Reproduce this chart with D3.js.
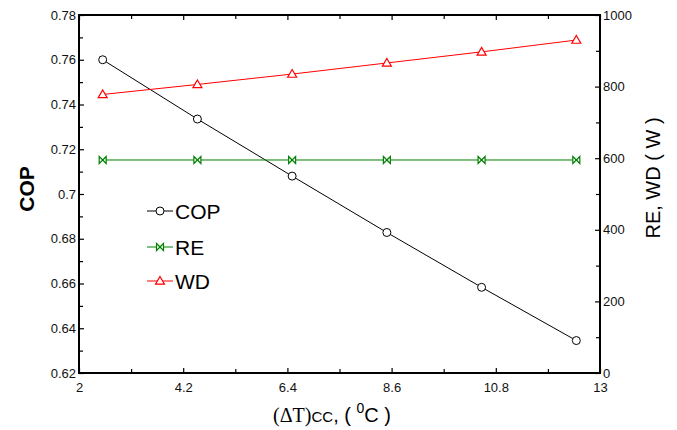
<!DOCTYPE html>
<html><head><meta charset="utf-8">
<script src="https://cdn.jsdelivr.net/npm/d3@7"></script>
<style>body{margin:0;background:#fff}svg{display:block}text{font-family:Arial,"Liberation Sans",sans-serif}</style>
</head><body>
<script>
const xValues = [2.5, 4.5, 6.5, 8.5, 10.5, 12.5];
const copValues = [0.760, 0.7335, 0.708, 0.6828, 0.6583, 0.6345];
const reValues = [595, 595, 595, 595, 595, 595];
const wdValues = [778, 806, 835, 866, 897, 930];
const xTicks = [2, 4.2, 6.4, 8.6, 10.8, 13];
const xMinorTicks = [3.1, 5.3, 7.5, 9.7, 11.9];
const yLeftTicks = [0.62, 0.64, 0.66, 0.68, 0.70, 0.72, 0.74, 0.76, 0.78];
const yLeftMinor = [0.63, 0.65, 0.67, 0.69, 0.71, 0.73, 0.75, 0.77];
const yRightTicks = [0, 200, 400, 600, 800, 1000];
const yRightMinor = [100, 300, 500, 700, 900];
const seriesNames = ["COP", "RE", "WD"];

const W = 677, H = 430;
const L = 79, R = 600, T = 15, B = 373;
const svg = d3.select("body").append("svg").attr("width", W).attr("height", H);

const x = d3.scaleLinear().domain([2, 13]).range([L, R]);
const yL = d3.scaleLinear().domain([0.62, 0.78]).range([B, T]);
const yR = d3.scaleLinear().domain([0, 1000]).range([B, T]);

function style(g){
  g.selectAll(".domain").remove();
  g.selectAll("line").attr("stroke","#000").attr("stroke-width",1.2);
  g.selectAll("text").attr("font-size","13px").attr("fill","#111").attr("font-family","Arial, 'Liberation Sans', sans-serif");
}
const fmt = d => String(+d.toFixed(2));

// bottom
svg.append("g").attr("transform",`translate(0,${B})`)
  .call(d3.axisBottom(x).tickValues(xTicks).tickSize(-5).tickPadding(10).tickFormat(fmt)).call(style);
svg.append("g").attr("transform",`translate(0,${B})`)
  .call(d3.axisBottom(x).tickValues(xMinorTicks).tickSize(-4).tickFormat("")).call(style);
// top
svg.append("g").attr("transform",`translate(0,${T})`)
  .call(d3.axisTop(x).tickValues(xTicks).tickSize(-5).tickFormat("")).call(style);
svg.append("g").attr("transform",`translate(0,${T})`)
  .call(d3.axisTop(x).tickValues(xMinorTicks).tickSize(-4).tickFormat("")).call(style);
// left
svg.append("g").attr("transform",`translate(${L},0)`)
  .call(d3.axisLeft(yL).tickValues(yLeftTicks).tickSize(-5).tickPadding(3).tickFormat(fmt)).call(style);
svg.append("g").attr("transform",`translate(${L},0)`)
  .call(d3.axisLeft(yL).tickValues(yLeftMinor).tickSize(-4).tickFormat("")).call(style);
// right
svg.append("g").attr("transform",`translate(${R},0)`)
  .call(d3.axisRight(yR).tickValues(yRightTicks).tickSize(-5).tickPadding(3).tickFormat(d3.format("d"))).call(style);
svg.append("g").attr("transform",`translate(${R},0)`)
  .call(d3.axisRight(yR).tickValues(yRightMinor).tickSize(-4).tickFormat("")).call(style);

// frame
svg.append("rect").attr("x",L).attr("y",T).attr("width",R-L).attr("height",B-T)
  .attr("fill","none").attr("stroke","#000").attr("stroke-width",2);

const bowtie = "M-3.5,-3.5L3.5,3.5L3.5,-3.5L-3.5,3.5Z";
const tri = "M0,-4.5L4.5,3.2L-4.5,3.2Z";
const series = [
  {name:seriesNames[0], vals:copValues, y:yL, color:"#000", shape:"circle"},
  {name:seriesNames[1], vals:reValues, y:yR, color:"#008000", shape:bowtie},
  {name:seriesNames[2], vals:wdValues, y:yR, color:"#ff0000", shape:tri}
];
function marker(g, s, cx, cy){
  if(s.shape==="circle"){
    g.append("circle").attr("cx",cx).attr("cy",cy).attr("r",4).attr("fill","#fff").attr("stroke",s.color).attr("stroke-width",1);
  } else {
    g.append("path").attr("d",s.shape).attr("transform",`translate(${cx},${cy})`)
      .attr("fill","#fff").attr("stroke",s.color).attr("stroke-width",1.2);
  }
}
series.forEach(s=>{
  const line = d3.line().x((d,i)=>x(xValues[i])).y(d=>s.y(d));
  svg.append("path").datum(s.vals).attr("d",line).attr("fill","none").attr("stroke",s.color).attr("stroke-width",1);
  const g = svg.append("g");
  s.vals.forEach((v,i)=>marker(g,s,x(xValues[i]),s.y(v)));
});

// legend
const legY = [211, 247, 281];
series.forEach((s,i)=>{
  const g = svg.append("g");
  g.append("line").attr("x1",147).attr("x2",173).attr("y1",legY[i]).attr("y2",legY[i]).attr("stroke",s.color).attr("stroke-width",1);
  marker(g,s,160,legY[i]);
  g.append("text").attr("x",175).attr("y",legY[i]+7.5).attr("font-size","21px").attr("fill","#000").text(s.name);
});

// axis titles
svg.append("text").attr("transform","translate(34,189) rotate(-90)").attr("text-anchor","middle")
  .attr("font-size","21px").attr("font-weight","bold").attr("fill","#000").text("COP");
svg.append("text").attr("transform","translate(660,178) rotate(-90)").attr("text-anchor","middle")
  .attr("font-size","20px").attr("fill","#000").text("RE, WD ( W )");
const xt = svg.append("text").attr("x",332).attr("y",422).attr("text-anchor","middle").attr("font-size","20px").attr("fill","#000");
xt.append("tspan").attr("font-family","'Liberation Serif','Times New Roman',serif").text("(ΔT)");
xt.append("tspan").attr("font-size","15px").text("CC");
xt.append("tspan").text(", ( ");
xt.append("tspan").attr("font-size","14px").attr("dy",-9).text("0");
xt.append("tspan").attr("dy",9).text("C )");
</script>
</body></html>
